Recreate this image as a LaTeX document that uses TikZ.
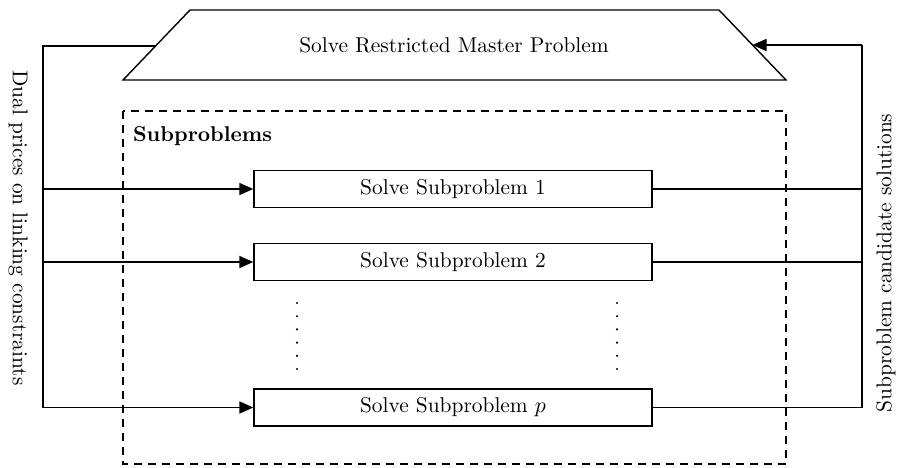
\documentclass[tikz,border=0pt]{standalone}
\usetikzlibrary{arrows.meta}
\begin{document}
\begin{tikzpicture}[x=0.5pt,y=-0.5pt,
  every node/.style={font=\fontsize{10.7}{13}\selectfont},
  box/.style={draw,line width=0.7pt,minimum width=199pt,minimum height=18.5pt,inner sep=0pt},
  link/.style={line width=0.85pt},
  feed/.style={line width=0.85pt,-{Triangle[length=7pt,width=6pt]}},
  vdot/.style={fill,circle,inner sep=0pt,minimum size=1.2pt}]
  \useasboundingbox (0,0) rectangle (897,467);

  % master problem (trapezoid)
  \draw[line width=0.7pt] (123,80) -- (190,10) -- (719,10) -- (786,80) -- cycle;
  \node (master) at (454,45) {Solve Restricted Master Problem};
  \coordinate (mL) at (155.5,46);
  \coordinate (mR) at (752.5,45);

  % subproblem container
  \draw[line width=0.7pt,dash pattern=on 4pt off 3pt] (123,111) rectangle (786,464);
  \node[anchor=north west,font=\fontsize{10.7}{13}\selectfont\bfseries] (subs) at (126,120) {Subproblems};

  % subproblem boxes
  \node[box] (s1) at (453,189) {Solve Subproblem 1};
  \node[box] (s2) at (453,262) {Solve Subproblem 2};
  \node[box] (sp) at (453,407.5) {Solve Subproblem $p$};

  % vertical ellipses
  \foreach \i in {0,...,5} {
    \node[vdot] (dl\i) at (297,303+13.2*\i) {};
    \node[vdot] (dr\i) at (617,303+13.2*\i) {};
  }

  % dual prices flowing down to the subproblems
  \coordinate (l0) at (43,46);
  \coordinate (l1) at (43,189);
  \coordinate (l2) at (43,262);
  \coordinate (l3) at (43,407.5);
  \draw[link] (mL) -- (l0) -- (l3);
  \draw[feed] (l1) -- (s1.west);
  \draw[feed] (l2) -- (s2.west);
  \draw[feed] (l3) -- (sp.west);

  % candidate solutions flowing back to the master
  \coordinate (r0) at (862,45);
  \coordinate (r1) at (862,189);
  \coordinate (r2) at (862,262);
  \coordinate (r3) at (862,407.5);
  \draw[link] (s1.east) -- (r1);
  \draw[link] (s2.east) -- (r2);
  \draw[link] (sp.east) -- (r3) -- (r0);
  \draw[feed] (r0) -- (mR);

  % side labels
  \node[rotate=-90] (dual) at (18,228) {Dual prices on linking constraints};
  \node[rotate=90] (cand) at (886,263) {Subproblem candidate solutions};
\end{tikzpicture}
\end{document}
